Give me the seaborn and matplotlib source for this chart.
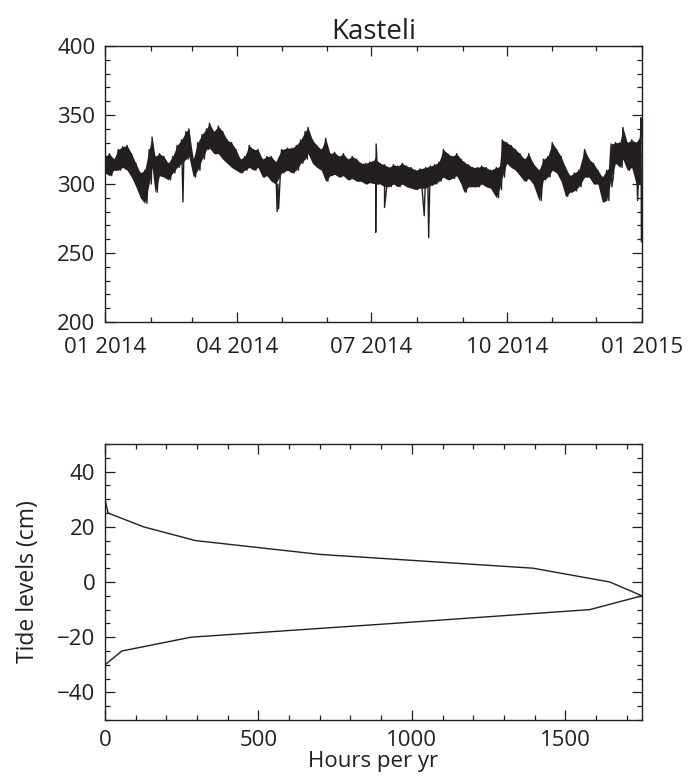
import numpy as np
import pandas as pd
import matplotlib
matplotlib.use("Agg")
import matplotlib.pyplot as plt
import matplotlib.dates as mdates
from matplotlib.ticker import MultipleLocator
import seaborn as sns

# ---------------- data ----------------
station = "Kasteli"

# sea level band (cm), sampled day of year 2014: upper / lower envelope
band_days = [0, 3, 6, 9, 12, 15, 18, 21, 24, 27, 30, 32, 34, 37, 40, 43, 46, 49, 52, 55,
             57, 60, 63, 66, 69, 71, 74, 77, 80, 83, 86, 89, 92, 95, 98, 101, 104, 107, 110, 113,
             116, 120, 124, 127, 130, 133, 136, 138, 141, 144, 147, 150, 153, 156, 159, 162, 165, 168, 171, 174,
             177, 180, 184, 187, 190, 193, 196, 199, 202, 205, 208, 211, 214, 218, 221, 224, 227, 230, 233, 236,
             239, 242, 244, 247, 250, 253, 256, 259, 262, 266, 268, 270, 273, 276, 279, 282, 285, 288, 291, 295,
             298, 301, 304, 307, 310, 313, 316, 319, 322, 326, 329, 332, 335, 338, 341, 343, 344, 347, 350, 352,
             355, 358, 361, 364]
band_upper = [320, 322, 318, 325, 327, 328, 322, 315, 308, 310, 325, 334, 320, 322, 320, 315, 320, 328, 332, 338,
              340, 318, 330, 336, 340, 344, 338, 342, 338, 332, 330, 325, 318, 320, 328, 325, 325, 318, 320, 320,
              316, 325, 326, 326, 328, 332, 338, 341, 332, 328, 325, 333, 322, 323, 320, 322, 318, 320, 318, 315,
              315, 316, 318, 315, 314, 312, 314, 313, 315, 313, 312, 310, 311, 312, 313, 314, 316, 325, 322, 320,
              322, 318, 316, 314, 312, 312, 313, 312, 310, 312, 312, 332, 330, 328, 325, 322, 318, 322, 315, 310,
              318, 320, 330, 325, 320, 312, 306, 308, 310, 325, 318, 315, 310, 305, 310, 312, 329, 330, 330, 341,
              330, 332, 330, 335]
band_lower = [308, 306, 310, 310, 312, 310, 305, 298, 290, 286, 300, 312, 294, 306, 305, 303, 308, 312, 315, 318,
              320, 305, 310, 318, 325, 326, 322, 322, 318, 315, 312, 310, 308, 310, 312, 310, 312, 305, 306, 302,
              300, 308, 310, 308, 310, 315, 318, 322, 315, 312, 310, 302, 306, 307, 305, 306, 303, 304, 302, 302,
              300, 301, 300, 300, 298, 298, 300, 298, 300, 298, 297, 296, 297, 297, 299, 300, 302, 305, 303, 304,
              306, 300, 294, 298, 298, 298, 300, 298, 297, 290, 296, 305, 315, 312, 310, 306, 302, 304, 300, 288,
              303, 305, 310, 308, 302, 291, 294, 295, 298, 305, 305, 300, 300, 287, 288, 298, 305, 315, 312, 318,
              310, 312, 300, 300]

# isolated short excursions (day of year, level in cm)
spike_days = [53, 117, 118, 184, 184.3, 190, 217, 220, 362, 364.3, 364.6]
spike_values = [287, 280, 282, 265, 329, 283, 277, 261, 288, 348, 258]

# tide level occurrence (hours per year per 5 cm bin)
tide_levels = [30, 25, 20, 15, 10, 5, 0, -5, -10, -15, -20, -25, -30]
hours_per_yr = [0, 10, 125, 295, 700, 1395, 1645, 1750, 1580, 940, 280, 55, 0]

# ---------------- series assembly ----------------
start = pd.Timestamp("2014-01-01")
t_pts, v_pts = [], []
for d, hi, lo in zip(band_days, band_upper, band_lower):
    t_pts += [d, d + 1.5]
    v_pts += [hi, lo]
for d, v in zip(spike_days, spike_values):
    t_pts.append(d)
    v_pts.append(v)
order = np.argsort(t_pts, kind="stable")
series = pd.DataFrame({
    "time": start + pd.to_timedelta(np.array(t_pts)[order], unit="D"),
    "level": np.array(v_pts)[order],
})
band = pd.DataFrame({
    "time": start + pd.to_timedelta(band_days, unit="D"),
    "upper": band_upper,
    "lower": band_lower,
})
dist = pd.DataFrame({"hours": hours_per_yr, "level": tide_levels})

# ---------------- style ----------------
sns.set_style("ticks")
plt.rcParams["font.family"] = ["Open Sans", "DejaVu Sans"]
ink = "#231f20"
W, H = 696, 781
fig = plt.figure(figsize=(W / 100, H / 100), dpi=100)

def style_axes(ax, xpad=11):
    for s in ax.spines.values():
        s.set_color(ink)
        s.set_linewidth(1.0)
    ax.tick_params(which="both", direction="in", top=True, right=True,
                   color=ink, labelcolor=ink, labelsize=16, width=0.9)
    ax.tick_params(which="major", length=7.5)
    ax.tick_params(which="minor", length=3.8)
    ax.tick_params(axis="y", which="major", pad=7)
    ax.tick_params(axis="x", which="major", pad=xpad)

# ---------------- top panel ----------------
ax1 = fig.add_axes([105 / W, 1 - 322 / H, 537 / W, 276 / H])
ax1.fill_between(band["time"], band["lower"], band["upper"], color=ink, lw=0)
sns.lineplot(data=series, x="time", y="level", ax=ax1, sort=False,
             estimator=None, color=ink, lw=1.0)
ax1.set_xlim(pd.Timestamp("2014-01-01"), pd.Timestamp("2015-01-01"))
ax1.set_ylim(200, 400)
ax1.yaxis.set_major_locator(MultipleLocator(50))
ax1.yaxis.set_minor_locator(MultipleLocator(10))
ax1.xaxis.set_major_locator(mdates.MonthLocator(bymonth=[1, 4, 7, 10]))
ax1.xaxis.set_minor_locator(mdates.MonthLocator())
ax1.xaxis.set_major_formatter(mdates.DateFormatter("%m %Y"))
ax1.set_xlabel("")
ax1.set_ylabel("")
ax1.set_title(station, fontsize=20, color=ink, pad=4)
style_axes(ax1)

# ---------------- bottom panel ----------------
ax2 = fig.add_axes([105 / W, 1 - 720 / H, 537 / W, 276 / H])
sns.lineplot(data=dist, x="hours", y="level", ax=ax2, sort=False,
             estimator=None, color=ink, lw=1.0)
ax2.set_xlim(0, 1750)
ax2.set_ylim(-50, 50)
ax2.xaxis.set_major_locator(MultipleLocator(500))
ax2.xaxis.set_minor_locator(MultipleLocator(100))
ax2.yaxis.set_major_locator(MultipleLocator(20))
ax2.yaxis.set_minor_locator(MultipleLocator(5))
ax2.set_xlabel("Hours per yr", fontsize=16, color=ink, labelpad=0)
ax2.set_ylabel("Tide levels (cm)", fontsize=16.5, color=ink, labelpad=12)
style_axes(ax2, xpad=7)

fig.savefig("out.png", dpi=100)
